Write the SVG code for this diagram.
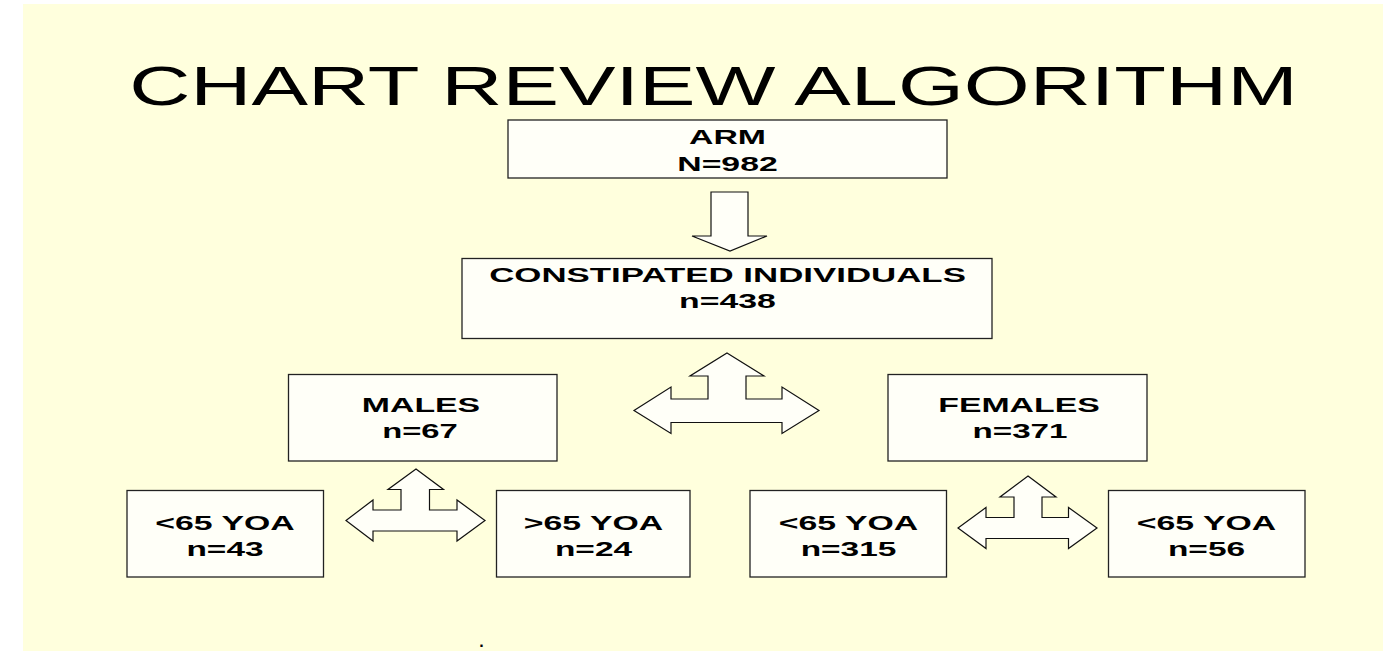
<svg xmlns="http://www.w3.org/2000/svg" width="1383" height="651" viewBox="0 0 1383 651">
<style>
.bg{fill:#FFFFDD}
.box{fill:#FFFFF8;stroke:#222;stroke-width:1.3}
.arr{fill:#FFFFF8;stroke:#111;stroke-width:1.2;stroke-linejoin:miter}
.t{font-family:"Liberation Sans",Arial,sans-serif;font-weight:bold;font-size:20.5px;fill:#000;text-anchor:middle}
.title{font-family:"Liberation Sans",Arial,sans-serif;font-size:55px;fill:#000;text-anchor:middle}
</style>
<rect class="bg" x="23" y="4" width="1360" height="647"/>
<text class="title" transform="translate(713.5,105) scale(1.54,1)">CHART REVIEW ALGORITHM</text>
<g id="connectors">
<polygon class="arr" points="711,192 748,192 748,236 767,236 730,251 692,236 711,236"/>
<polygon class="arr" points="727,353 764,376 746,376 746,399 782,399 782,387 819,410.5 782,433.5 782,422.5 671,422.5 671,433.5 634,410.5 671,387 671,399 708,399 708,376 690,376"/>
<polygon class="arr" points="416,469 443.5,489.5 429.5,489.5 429.5,510 457,510 457,500 485,520.5 457,541 457,531 373,531 373,541 346,520.5 373,500 373,510 401,510 401,489.5 388,489.5"/>
<polygon class="arr" points="1028,476 1056,497 1042,497 1042,517.5 1068.5,517.5 1068.5,507.5 1097,528 1068.5,548.5 1068.5,538.5 986,538.5 986,548.5 958,528 986,507.5 986,517.5 1014,517.5 1014,497 1000,497"/>
</g>
<g id="arm">
<rect class="box" x="508" y="120" width="439" height="58"/>
<text class="t" transform="translate(727.5,144) scale(1.65,1)">ARM</text>
<text class="t" transform="translate(727.5,170.5) scale(1.65,1)">N=982</text>
</g>
<g id="constipated">
<rect class="box" x="462" y="258.5" width="530" height="80"/>
<text class="t" transform="translate(727.5,281.5) scale(1.7,1)">CONSTIPATED INDIVIDUALS</text>
<text class="t" transform="translate(727.5,308) scale(1.65,1)">n=438</text>
</g>
<g id="males">
<rect class="box" x="288.5" y="374.5" width="268.5" height="86.5"/>
<text class="t" transform="translate(421,411.5) scale(1.65,1)">MALES</text>
<text class="t" transform="translate(420,438.3) scale(1.6,1)">n=67</text>
</g>
<g id="females">
<rect class="box" x="888" y="374.5" width="259" height="86.5"/>
<text class="t" transform="translate(1019,411.5) scale(1.65,1)">FEMALES</text>
<text class="t" transform="translate(1020,438.3) scale(1.62,1)">n=371</text>
</g>
<g id="m-under65">
<rect class="box" x="127" y="490.5" width="196.5" height="86.5"/>
<text class="t" transform="translate(225,529.5) scale(1.65,1)">&lt;65 YOA</text>
<text class="t" transform="translate(225,556) scale(1.63,1)">n=43</text>
</g>
<g id="m-over65">
<rect class="box" x="496.5" y="490.5" width="193.5" height="86.5"/>
<text class="t" transform="translate(593.5,529.5) scale(1.65,1)">&gt;65 YOA</text>
<text class="t" transform="translate(593.5,556) scale(1.63,1)">n=24</text>
</g>
<g id="f-under65">
<rect class="box" x="750" y="490.5" width="196.5" height="86.5"/>
<text class="t" transform="translate(848.5,529.5) scale(1.65,1)">&lt;65 YOA</text>
<text class="t" transform="translate(848.5,556) scale(1.63,1)">n=315</text>
</g>
<g id="f-over65">
<rect class="box" x="1108.5" y="490.5" width="196.5" height="86.5"/>
<text class="t" transform="translate(1206.5,529.5) scale(1.65,1)">&lt;65 YOA</text>
<text class="t" transform="translate(1206.5,556) scale(1.63,1)">n=56</text>
</g>
<text class="t" x="481.5" y="647" style="font-size:16px">.</text>
</svg>
